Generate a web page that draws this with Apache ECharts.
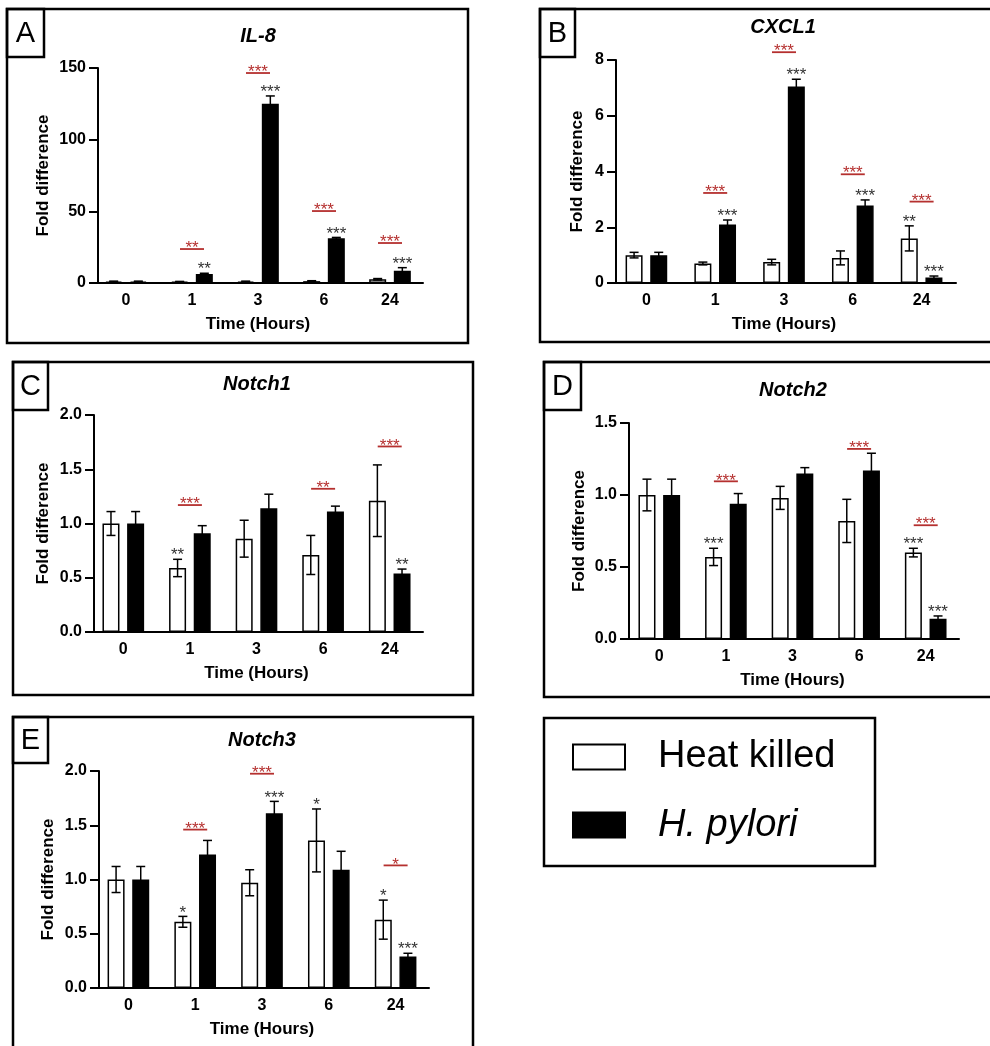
<!DOCTYPE html>
<html><head><meta charset="utf-8">
<script src="https://cdn.jsdelivr.net/npm/echarts@6/dist/echarts.min.js"></script>
<style>html,body{margin:0;padding:0;background:#fff}#c{width:990px;height:1046px}</style>
</head><body><div id="c"></div>
<script>
// ---------- data ----------
const categories = ['0', '1', '3', '6', '24'];
const seriesNames = ['Heat killed', 'H. pylori'];
const xTitle = 'Time (Hours)';
const yTitle = 'Fold difference';

// A: IL-8
const il8Heat    = [1.0, 0.9, 1.0, 1.3, 2.6];
const il8HeatErr = [0.3, 0.2, 0.3, 0.3, 0.5];
const il8Hp      = [1.0, 6.3, 125.0, 31.2, 8.6];
const il8HpErr   = [0.3, 0.5, 5.5, 0.6, 2.1];
const il8HeatSig = ['', '', '', '', ''];
const il8HpSig   = ['', '**', '***', '***', '***'];
const il8PairSig = ['', '**', '***', '***', '***'];
const il8PairY   = [null, 23.7, 146.5, 50.2, 27.9];

// B: CXCL1
const cxcl1Heat    = [1.0, 0.7, 0.75, 0.9, 1.6];
const cxcl1HeatErr = [0.1, 0.05, 0.1, 0.25, 0.45];
const cxcl1Hp      = [1.0, 2.1, 7.05, 2.78, 0.2];
const cxcl1HpErr   = [0.1, 0.16, 0.26, 0.2, 0.05];
const cxcl1HeatSig = ['', '', '', '', '**'];
const cxcl1HpSig   = ['', '***', '***', '***', '***'];
const cxcl1PairSig = ['', '***', '***', '***', '***'];
const cxcl1PairY   = [null, 3.23, 8.28, 3.9, 2.92];

// C: Notch1
const n1Heat    = [1.0, 0.59, 0.86, 0.71, 1.21];
const n1HeatErr = [0.11, 0.08, 0.17, 0.18, 0.33];
const n1Hp      = [1.0, 0.91, 1.14, 1.11, 0.54];
const n1HpErr   = [0.11, 0.07, 0.13, 0.05, 0.04];
const n1HeatSig = ['', '**', '', '', ''];
const n1HpSig   = ['', '', '', '', '**'];
const n1PairSig = ['', '***', '', '**', '***'];
const n1PairY   = [null, 1.17, null, 1.32, 1.71];

// D: Notch2
const n2Heat    = [1.0, 0.57, 0.98, 0.82, 0.60];
const n2HeatErr = [0.11, 0.06, 0.08, 0.15, 0.03];
const n2Hp      = [1.0, 0.94, 1.15, 1.17, 0.14];
const n2HpErr   = [0.11, 0.07, 0.04, 0.12, 0.02];
const n2HeatSig = ['', '***', '', '', '***'];
const n2HpSig   = ['', '', '', '', '***'];
const n2PairSig = ['', '***', '', '***', '***'];
const n2PairY   = [null, 1.095, null, 1.32, 0.79];

// E: Notch3
const n3Heat    = [1.0, 0.61, 0.97, 1.36, 0.63];
const n3HeatErr = [0.12, 0.05, 0.12, 0.29, 0.18];
const n3Hp      = [1.0, 1.23, 1.61, 1.09, 0.29];
const n3HpErr   = [0.12, 0.13, 0.11, 0.17, 0.03];
const n3HeatSig = ['', '*', '', '*', '*'];
const n3HpSig   = ['', '', '***', '', '***'];
const n3PairSig = ['', '***', '***', '', '*'];
const n3PairY   = [null, 1.46, 1.975, null, 1.13];

// ---------- layout ----------
const FONT = "'Liberation Sans', Arial, Helvetica, sans-serif";
const RED = '#b5302f';
const BAR_W = 17;
const BAR_GAP = 0.45;
const SHIFT = (BAR_W + BAR_W * BAR_GAP) / 2;
const STAR_SIZE = 17;

const panels = [
  {title: 'IL-8', letter: 'A', box: [7, 9, 468, 343], lbox: [7, 9, 44, 57], tpos: [258, 36],
   grid: {left: 93, top: 68, width: 330, height: 215}, yOff: -5, yMax: 150, yInt: 50, dec: 0, yGap: 46,
   heat: il8Heat, heatErr: il8HeatErr, hp: il8Hp, hpErr: il8HpErr,
   heatSig: il8HeatSig, hpSig: il8HpSig, pairSig: il8PairSig, pairY: il8PairY},
  {title: 'CXCL1', letter: 'B', box: [540, 9, 1000, 342], lbox: [540, 9, 575, 57], tpos: [783, 27],
   grid: {left: 612, top: 60, width: 344, height: 223}, yOff: -4, yMax: 8, yInt: 2, dec: 0, yGap: 30,
   heat: cxcl1Heat, heatErr: cxcl1HeatErr, hp: cxcl1Hp, hpErr: cxcl1HpErr,
   heatSig: cxcl1HeatSig, hpSig: cxcl1HpSig, pairSig: cxcl1PairSig, pairY: cxcl1PairY},
  {title: 'Notch1', letter: 'C', box: [13, 362, 473, 695], lbox: [13, 362, 48, 410], tpos: [257, 384],
   grid: {left: 90, top: 415, width: 333, height: 217}, yOff: -4, yMax: 2, yInt: 0.5, dec: 1, yGap: 42,
   heat: n1Heat, heatErr: n1HeatErr, hp: n1Hp, hpErr: n1HpErr,
   heatSig: n1HeatSig, hpSig: n1HpSig, pairSig: n1PairSig, pairY: n1PairY},
  {title: 'Notch2', letter: 'D', box: [544, 362, 1000, 697], lbox: [544, 362, 581, 410], tpos: [793, 390],
   grid: {left: 626, top: 423, width: 333, height: 216}, yOff: -3, yMax: 1.5, yInt: 0.5, dec: 1, yGap: 41,
   heat: n2Heat, heatErr: n2HeatErr, hp: n2Hp, hpErr: n2HpErr,
   heatSig: n2HeatSig, hpSig: n2HpSig, pairSig: n2PairSig, pairY: n2PairY},
  {title: 'Notch3', letter: 'E', box: [13, 717, 473, 1060], lbox: [13, 717, 48, 763], tpos: [262, 740],
   grid: {left: 95, top: 771, width: 334, height: 217}, yOff: -4, yMax: 2, yInt: 0.5, dec: 1, yGap: 42,
   heat: n3Heat, heatErr: n3HeatErr, hp: n3Hp, hpErr: n3HpErr,
   heatSig: n3HeatSig, hpSig: n3HpSig, pairSig: n3PairSig, pairY: n3PairY}
];

const grids = [], xAxes = [], yAxes = [], series = [], graphics = [];

panels.forEach((p, k) => {
  grids.push(Object.assign({containLabel: false}, p.grid));
  xAxes.push({
    gridIndex: k, type: 'category', data: categories,
    axisLine: {lineStyle: {color: '#000', width: 2}},
    axisTick: {alignWithLabel: true, length: 7, lineStyle: {color: '#000', width: 2}},
    axisLabel: {fontSize: 16, fontWeight: 'bold', color: '#000', fontFamily: FONT, margin: 10},
    name: xTitle, nameLocation: 'middle', nameGap: 33,
    nameTextStyle: {fontSize: 17, fontWeight: 'bold', color: '#000', fontFamily: FONT}
  });
  yAxes.push({
    gridIndex: k, type: 'value', min: 0, max: p.yMax, interval: p.yInt, offset: p.yOff,
    axisLine: {show: true, lineStyle: {color: '#000', width: 2}},
    axisTick: {show: true, length: 9, lineStyle: {color: '#000', width: 2}},
    splitLine: {show: false},
    axisLabel: {fontSize: 16, fontWeight: 'bold', color: '#000', fontFamily: FONT, margin: 12,
      formatter: v => v.toFixed(p.dec)},
    name: yTitle, nameLocation: 'middle', nameGap: p.yGap, nameRotate: 90,
    nameTextStyle: {fontSize: 17, fontWeight: 'bold', color: '#000', fontFamily: FONT}
  });

  series.push({
    type: 'bar', name: seriesNames[0], xAxisIndex: k, yAxisIndex: k, data: p.heat,
    barWidth: BAR_W, barGap: (BAR_GAP * 100) + '%',
    itemStyle: {color: '#fff', borderColor: '#000', borderWidth: 1.5}, z: 2
  });
  series.push({
    type: 'bar', name: seriesNames[1], xAxisIndex: k, yAxisIndex: k, data: p.hp,
    barWidth: BAR_W, barGap: (BAR_GAP * 100) + '%',
    itemStyle: {color: '#000', borderColor: '#000', borderWidth: 1.5}, z: 2
  });

  // error bars
  const errData = [];
  categories.forEach((c, i) => {
    errData.push([i, p.heat[i], p.heatErr[i], -1]);
    errData.push([i, p.hp[i], p.hpErr[i], 1]);
  });
  series.push({
    type: 'custom', xAxisIndex: k, yAxisIndex: k, data: errData, z: 5, clip: false,
    encode: {x: 0, y: 1},
    renderItem: (params, api) => {
      const i = api.value(0), m = api.value(1), e = api.value(2), side = api.value(3);
      const t = api.coord([i, m + e]);
      const b = api.coord([i, Math.max(0, m - e)]);
      const x = t[0] + side * SHIFT;
      const st = {stroke: '#000', lineWidth: 1.5};
      return {type: 'group', children: [
        {type: 'line', shape: {x1: x, y1: t[1], x2: x, y2: b[1]}, style: st},
        {type: 'line', shape: {x1: x - 4.5, y1: t[1], x2: x + 4.5, y2: t[1]}, style: st},
        {type: 'line', shape: {x1: x - 4.5, y1: b[1], x2: x + 4.5, y2: b[1]}, style: st}
      ]};
    }
  });

  // significance vs control (black stars)
  const sigData = [], sigText = [];
  categories.forEach((c, i) => {
    if (p.heatSig[i]) { sigData.push([i, p.heat[i] + p.heatErr[i], -1]); sigText.push(p.heatSig[i]); }
    if (p.hpSig[i]) { sigData.push([i, p.hp[i] + p.hpErr[i], 1]); sigText.push(p.hpSig[i]); }
  });
  series.push({
    type: 'custom', xAxisIndex: k, yAxisIndex: k, data: sigData, z: 6, clip: false,
    encode: {x: 0, y: 1},
    renderItem: (params, api) => {
      const i = api.value(0), v = api.value(1), side = api.value(2);
      const pt = api.coord([i, v]);
      return {type: 'text', x: pt[0] + side * SHIFT, y: pt[1] + 5,
        style: {text: sigText[params.dataIndex], fill: '#333', fontSize: STAR_SIZE, fontFamily: FONT,
          align: 'center', verticalAlign: 'bottom'}};
    }
  });

  // significance between groups (red)
  const pairData = [], pairText = [];
  categories.forEach((c, i) => {
    if (p.pairSig[i]) { pairData.push([i, p.pairY[i]]); pairText.push(p.pairSig[i]); }
  });
  series.push({
    type: 'custom', xAxisIndex: k, yAxisIndex: k, data: pairData, z: 6, clip: false,
    encode: {x: 0, y: 1},
    renderItem: (params, api) => {
      const pt = api.coord([api.value(0), api.value(1)]);
      return {type: 'group', children: [
        {type: 'line', shape: {x1: pt[0] - 12, y1: pt[1], x2: pt[0] + 12, y2: pt[1]},
          style: {stroke: RED, lineWidth: 1.8}},
        {type: 'text', x: pt[0], y: pt[1] + 8,
          style: {text: pairText[params.dataIndex], fill: RED, fontSize: STAR_SIZE, fontFamily: FONT,
            align: 'center', verticalAlign: 'bottom'}}
      ]};
    }
  });

  // frames, letters, titles
  const [x1, y1, x2, y2] = p.box;
  graphics.push({type: 'rect', shape: {x: x1, y: y1, width: x2 - x1, height: y2 - y1},
    style: {fill: 'none', stroke: '#000', lineWidth: 2.5}, z: 10});
  const [lx1, ly1, lx2, ly2] = p.lbox;
  graphics.push({type: 'rect', shape: {x: lx1, y: ly1, width: lx2 - lx1, height: ly2 - ly1},
    style: {fill: 'none', stroke: '#000', lineWidth: 2.5}, z: 10});
  graphics.push({type: 'text', x: (lx1 + lx2) / 2, y: (ly1 + ly2) / 2 + 1,
    style: {text: p.letter, fontSize: 29, fontFamily: FONT, fill: '#000', align: 'center', verticalAlign: 'middle'}, z: 10});
  graphics.push({type: 'text', x: p.tpos[0], y: p.tpos[1],
    style: {text: p.title, fontSize: 20, fontWeight: 'bold', fontStyle: 'italic', fontFamily: FONT, fill: '#000',
      align: 'center', verticalAlign: 'middle'}, z: 10});
});

// legend frame
graphics.push({type: 'rect', shape: {x: 544, y: 718, width: 331, height: 148},
  style: {fill: 'none', stroke: '#000', lineWidth: 2.5}, z: 10});

const option = {
  animation: false,
  backgroundColor: '#fff',
  grid: grids, xAxis: xAxes, yAxis: yAxes, series: series, graphic: graphics,
  legend: {
    data: seriesNames, orient: 'vertical', left: 572, top: 738, padding: 0,
    itemWidth: 52, itemHeight: 25, itemGap: 30, icon: 'rect', selectedMode: false,
    itemStyle: {borderWidth: 2, borderColor: '#000'},
    textStyle: {fontSize: 38, color: '#000', fontFamily: FONT, padding: [0, 0, 0, 28], lineHeight: 38,
      rich: {i: {fontSize: 38, fontStyle: 'italic', fontFamily: FONT, color: '#000', lineHeight: 38}}},
    formatter: name => name === 'H. pylori' ? '{i|' + name + '}' : name
  }
};
const chart = echarts.init(document.getElementById('c'), null, {renderer: 'canvas'});
chart.setOption(option);
</script></body></html>
